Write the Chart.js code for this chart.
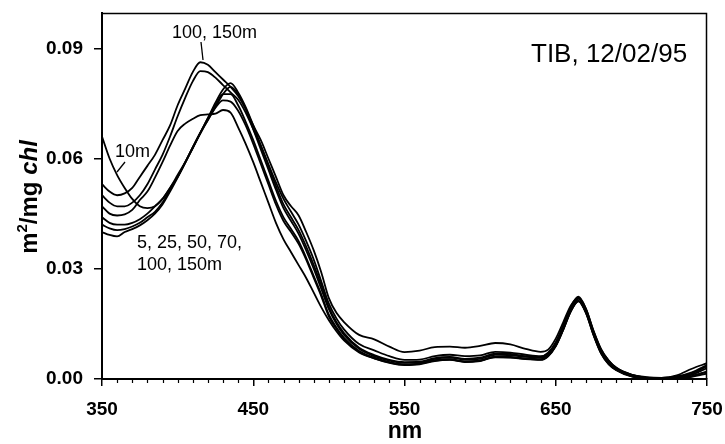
<!DOCTYPE html>
<html><head><meta charset="utf-8">
<script src="https://cdn.jsdelivr.net/npm/chart.js@4.4.1/dist/chart.umd.min.js"></script>
<style>html,body{margin:0;padding:0;background:#fff}#wrap{width:725px;height:444px}</style>
</head><body><div id="wrap"><canvas id="c" width="725" height="444"></canvas></div>
<script>
const wavelengths = [350,355,360,365,370,375,380,385,390,395,400,405,410,415,420,425,430,435,440,445,450,455,460,465,470,475,480,485,490,495,500,505,510,520,530,540,550,560,570,580,590,600,610,620,630,640,645,650,655,660,665,670,675,680,685,690,700,710,720,730,740,750];

const s100m = [.053,.051,.050,.0505,.052,.055,.058,.061,.065,.069,.0745,.079,.0835,.0862,.0855,.0835,.0815,.0795,.0770,.0735,.069,.065,.060,.055,.050,.047,.0445,.040,.035,.029,.022,.018,.0155,
 .0120,.0108,.0088,.0073,.0077,.0087,.0088,.0085,.0090,.0098,.0094,.0082,.0074,
 .0080,.0110,.0155,.0200,.0222,.0190,.0130,.0080,.0050,.0030,
 .0012,.0004,.0003,.0010,.0028,.0043];
const s150m = [.050,.048,.047,.047,.048,.050,.053,.057,.061,.066,.0715,.0765,.081,.0838,.0835,.082,.0800,.0780,.0760,.0725,.068,.0635,.0585,.0535,.049,.0455,.042,.0375,.0325,.0265,.0205,.0165,.0135,
 .0095,.0078,.0062,.0052,.0053,.0062,.0066,.0062,.0064,.0074,.0072,.0066,.0062,
 .0072,.0100,.0147,.0197,.0224,.0191,.0131,.0081,.0050,.0031,
 .0012,.0005,.0003,.0007,.0018,.0038];
const s10m = [.066,.060,.0555,.052,.049,.047,.0465,.047,.049,.052,.055,.059,.063,.067,.0705,.074,.0775,.0795,.0775,.0735,.068,.0625,.057,.0515,.0465,.043,.0395,.035,.030,.0245,.019,.015,.012,
 .0082,.0062,.0050,.0044,.0045,.0055,.0058,.0053,.0055,.0066,.0065,.0060,.0058,
 .0068,.0095,.0140,.0190,.0218,.0185,.0125,.0075,.0045,.0028,
 .0010,.0003,.0002,.0005,.0012,.0030];
const s5m = [.047,.045,.0445,.0448,.046,.0487,.051,.0548,.059,.0635,.0675,.0695,.0708,.0718,.0720,.0722,.0732,.0725,.0685,.064,.059,.0535,.048,.0425,.038,.0345,.031,.0275,.0235,.0195,.016,.013,.0105,
 .0072,.0056,.0045,.0039,.0041,.0050,.0053,.0047,.0050,.0060,.0059,.0055,.0053,
 .0063,.0090,.0135,.0185,.0212,.0180,.0120,.0070,.0041,.0025,
 .0008,.0002,.0001,.0003,.0008,.0020];
const s25m = [.044,.0425,.042,.042,.0425,.0435,.045,.047,.049,.052,.0555,.059,.063,.067,.071,.0745,.0775,.0775,.0745,.070,.065,.0595,.054,.0485,.0440,.0408,.0375,.033,.028,.023,.0175,.014,.0112,
 .0076,.0058,.0046,.0040,.0042,.0051,.0054,.0048,.0050,.0061,.0060,.0056,.0054,
 .0064,.0091,.0136,.0186,.0213,.0181,.0121,.0071,.0042,.0025,
 .0008,.0002,.0001,.0003,.0008,.0020];
const s50m = [.042,.041,.0405,.0408,.0415,.0425,.044,.0455,.048,.0515,.055,.0588,.0628,.0668,.0705,.0738,.0758,.0755,.0730,.0690,.0640,.0585,.053,.0475,.0430,.0400,.0368,.0325,.0275,.0225,.017,.0137,.011,
 .0074,.0056,.0044,.0038,.0040,.0049,.0052,.0046,.0049,.0059,.0058,.0054,.0052,
 .0062,.0089,.0134,.0184,.0211,.0179,.0119,.0069,.0040,.0024,
 .0007,.0002,.0001,.0002,.0006,.0015];
const s70m = [.040,.0392,.0388,.040,.0408,.0418,.0432,.045,.0475,.051,.0548,.0588,.063,.067,.071,.0752,.0788,.0805,.0780,.0740,.0690,.0635,.058,.0525,.0475,.0440,.0405,.036,.031,.0255,.0195,.0155,.0125,
 .0085,.0065,.0052,.0046,.0047,.0057,.0060,.0055,.0058,.0069,.0068,.0062,.0060,
 .0070,.0097,.0143,.0193,.0220,.0188,.0128,.0078,.0047,.0029,
 .0011,.0004,.0003,.0006,.0015,.0035];

const seriesNames = ['100m','150m','10m','5m','25m','50m','70m'];
const seriesValues = [s100m,s150m,s10m,s5m,s25m,s50m,s70m];
const xTickValues = [350,450,550,650,750];
const yTickValues = [0,0.03,0.06,0.09];

const FONT = 'Liberation Sans, Arial, Helvetica, sans-serif';

const deco = {
  id:'deco',
  afterDraw(chart){
    const {ctx, chartArea:a, scales:{x}} = chart;
    ctx.save();
    ctx.strokeStyle='#000'; ctx.fillStyle='#000';
    ctx.lineWidth=1.5;
    ctx.beginPath(); ctx.moveTo(a.left,a.top+0.5); ctx.lineTo(a.right-0.5,a.top+0.5); ctx.lineTo(a.right-0.5,a.bottom); ctx.stroke();
    ctx.lineWidth=1.2;
    for(let v=360; v<750; v+=10){
      if((v-350)%100===0) continue;
      const px=Math.round(x.getPixelForValue(v))+0.5;
      ctx.beginPath(); ctx.moveTo(px,a.bottom); ctx.lineTo(px,a.bottom+4); ctx.stroke();
    }
    // annotations
    ctx.textBaseline='middle'; ctx.textAlign='left';
    ctx.font='18px '+FONT;
    ctx.fillText('100, 150m',172,33);
    ctx.fillText('10m',115,152);
    ctx.fillText('5, 25, 50, 70,',137,243);
    ctx.fillText('100, 150m',137,265);
    ctx.font='26px '+FONT;
    ctx.fillText('TIB, 12/02/95',531,55);
    ctx.lineWidth=1.3;
    ctx.beginPath(); ctx.moveTo(201,42); ctx.lineTo(203,60); ctx.stroke();
    ctx.beginPath(); ctx.moveTo(125,162); ctx.lineTo(117,172); ctx.stroke();
    // x title
    ctx.textAlign='center';
    ctx.font='bold 23px '+FONT;
    ctx.fillText('nm',405,432);
    // y title
    ctx.save();
    ctx.translate(37,197); ctx.rotate(-Math.PI/2);
    ctx.textAlign='left'; ctx.textBaseline='alphabetic';
    const parts=[['m','bold 24px',0],['2','bold 15px',-10],['/mg ','bold 24px',0],['chl','italic bold 24px',0]];
    let w=0; parts.forEach(p=>{ctx.font=p[1]+' '+FONT; w+=ctx.measureText(p[0]).width;});
    let cx=-w/2;
    parts.forEach(p=>{ctx.font=p[1]+' '+FONT; ctx.fillText(p[0],cx,p[2]); cx+=ctx.measureText(p[0]).width;});
    ctx.restore();
    ctx.restore();
  }
};

new Chart(document.getElementById('c'),{
  type:'line',
  data:{datasets: seriesValues.map((vals,i)=>({
    label: seriesNames[i],
    data: wavelengths.map((w,j)=>({x:w,y:vals[j]})),
    borderColor:'#000', borderWidth:1.8, pointRadius:0, fill:false,
    cubicInterpolationMode:'monotone'
  }))},
  options:{
    responsive:false, animation:false, devicePixelRatio:1,
    layout:{padding:{left:0,right:18,top:13,bottom:0}},
    plugins:{legend:{display:false},tooltip:{enabled:false}},
    scales:{
      x:{type:'linear',min:350,max:750,
        afterFit:s=>{s.height=65; s.paddingLeft=0; s.paddingRight=0;},
        afterBuildTicks:s=>{s.ticks=xTickValues.map(v=>({value:v}));},
        grid:{drawOnChartArea:false,drawTicks:true,tickLength:7,color:'#000',lineWidth:1.5},
        border:{display:true,color:'#000',width:2},
        ticks:{color:'#000',font:{family:FONT,size:19,weight:'bold'},padding:12,maxRotation:0,autoSkip:false,callback:v=>String(v)}
      },
      y:{min:0,max:0.0996,
        afterFit:s=>{s.width=102; s.paddingTop=0; s.paddingBottom=0;},
        afterBuildTicks:s=>{s.ticks=yTickValues.map(v=>({value:v}));},
        grid:{drawOnChartArea:false,drawTicks:true,tickLength:8,color:'#000',lineWidth:1.5},
        border:{display:true,color:'#000',width:2},
        ticks:{color:'#000',font:{family:FONT,size:19,weight:'bold'},padding:11,autoSkip:false,callback:v=>Number(v).toFixed(2)}
      }
    }
  },
  plugins:[deco]
});
</script></body></html>
